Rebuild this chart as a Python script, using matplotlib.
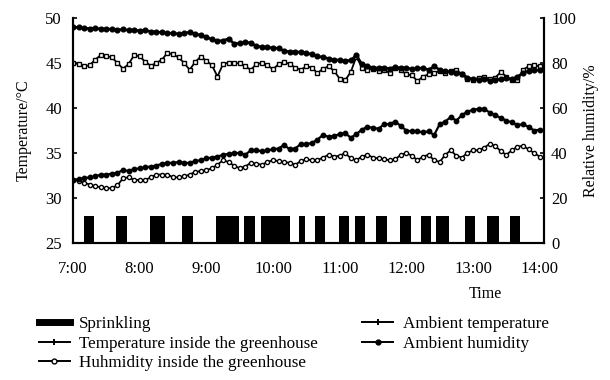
import matplotlib
matplotlib.use("Agg")
import matplotlib.pyplot as plt
from matplotlib.lines import Line2D
import numpy as np

# time in minutes after 7:00
minutes = list(range(0, 425, 5))

temp_ambient = [32.0, 32.1, 32.2, 32.3, 32.4, 32.6, 32.6, 32.7, 32.8, 33.1, 33.0, 33.2, 33.3, 33.4, 33.5, 33.6,
                33.8, 33.9, 33.9, 34.0, 33.9, 33.9, 34.1, 34.2, 34.4, 34.5, 34.6, 34.8, 34.9, 35.0, 35.0, 34.8,
                35.3, 35.3, 35.2, 35.3, 35.4, 35.5, 35.9, 35.4, 35.5, 36.0, 36.0, 36.1, 36.5, 37.0, 36.8, 36.9,
                37.1, 37.2, 36.7, 37.1, 37.6, 37.9, 37.8, 37.7, 38.2, 38.2, 38.5, 38.0, 37.5, 37.4, 37.4, 37.3,
                37.4, 37.0, 38.2, 38.5, 39.0, 38.6, 39.2, 39.6, 39.8, 39.9, 39.9, 39.5, 39.2, 38.9, 38.6, 38.4,
                38.1, 38.2, 37.9, 37.5, 37.6]

temp_inside = [32.0, 31.9, 31.7, 31.5, 31.3, 31.2, 31.1, 31.1, 31.4, 32.2, 32.3, 32.0, 32.0, 32.0, 32.3, 32.6,
               32.6, 32.6, 32.3, 32.3, 32.4, 32.6, 32.9, 33.0, 33.1, 33.3, 33.7, 34.2, 34.0, 33.6, 33.3, 33.5,
               33.9, 33.8, 33.7, 34.0, 34.2, 34.1, 34.0, 33.9, 33.7, 34.1, 34.3, 34.2, 34.2, 34.5, 34.8, 34.6,
               34.7, 35.0, 34.4, 34.2, 34.6, 34.8, 34.5, 34.4, 34.3, 34.2, 34.3, 34.8, 35.0, 34.7, 34.2, 34.6,
               34.8, 34.2, 34.0, 34.8, 35.3, 34.7, 34.5, 35.0, 35.3, 35.3, 35.6, 36.0, 35.8, 35.2, 34.8, 35.3,
               35.7, 35.8, 35.4, 35.0, 34.6]

hum_ambient = [96.0, 95.8, 95.5, 95.3, 95.5, 95.2, 95.2, 95.0, 94.8, 94.9, 94.6, 94.5, 94.4, 94.5, 94.0, 93.8,
               93.6, 93.3, 93.2, 93.0, 93.2, 93.7, 92.8, 92.5, 91.5, 90.5, 89.8, 90.0, 90.8, 88.6, 88.8, 89.2,
               89.0, 87.5, 87.2, 87.0, 86.8, 86.5, 85.5, 85.0, 85.0, 84.8, 84.5, 83.8, 83.0, 82.6, 82.0, 81.5,
               81.3, 81.0, 81.2, 83.5, 79.5, 78.5, 78.0, 77.8, 78.0, 77.5, 78.2, 77.8, 78.0, 77.2, 77.6, 77.8,
               77.0, 78.5, 77.0, 76.5, 76.0, 75.5, 75.2, 73.5, 72.8, 72.5, 73.0, 72.2, 72.5, 72.8, 73.2, 72.8,
               74.0, 75.5, 76.5, 77.0, 76.8]

hum_inside = [80.0, 79.5, 78.5, 79.0, 81.5, 83.5, 83.0, 82.5, 80.0, 77.5, 79.5, 83.5, 83.0, 80.5, 78.8, 80.0,
              81.5, 84.5, 83.8, 82.5, 80.0, 77.0, 80.5, 82.8, 81.0, 79.0, 74.0, 79.5, 80.2, 79.8, 80.0, 78.5,
              77.0, 79.5, 80.0, 79.0, 77.2, 79.5, 80.5, 79.5, 78.0, 77.0, 78.5, 78.0, 75.5, 77.5, 78.5, 76.5,
              73.0, 72.4, 76.0, 82.8, 78.0, 77.0, 77.5, 76.5, 77.0, 75.5, 78.0, 76.8, 75.0, 74.5, 72.0, 74.0,
              75.0, 75.5, 76.5, 75.5, 76.5, 77.0, 75.0, 73.0, 72.5, 73.5, 74.0, 72.8, 73.5, 76.0, 74.0, 72.5,
              72.4, 77.0, 78.5, 79.0, 78.5]

# sprinkling periods (start minute after 7:00, duration in minutes)
spray_start = [10, 39, 69, 98, 129, 154, 169, 203, 218, 239, 254, 273, 294, 313, 327, 353, 373, 393]
spray_dur = [9, 10, 14, 10, 20, 10, 26, 6, 9, 9, 9, 10, 10, 9, 11, 9, 10, 9]
spray_level = 3.0  # bars reach 28 degC on the temperature axis

xtick_minutes = [0, 60, 120, 180, 240, 300, 360, 420]
xtick_labels = ["7:00", "8:00", "9:00", "10:00", "11:00", "12:00", "13:00", "14:00"]

plt.rcParams['font.family'] = ['Liberation Serif', 'DejaVu Serif']

fig = plt.figure(figsize=(6.1, 3.8), dpi=100)
ax = fig.add_axes([0.1197, 0.3605, 0.7723, 0.5921])
ax2 = ax.twinx()

ax.bar(spray_start, [spray_level] * len(spray_start), width=spray_dur, bottom=25,
       align='edge', color='black', linewidth=0)

ax.plot(minutes, temp_inside, color='black', lw=1.3, marker='o', ms=3.0,
        mfc='white', mec='black', mew=1.0)
ax.plot(minutes, temp_ambient, color='black', lw=1.6, marker='o', ms=3.2,
        mfc='black', mec='black')
ax2.plot(minutes, hum_inside, color='black', lw=1.3, marker='s', ms=3.0,
         mfc='white', mec='black', mew=1.0)
ax2.plot(minutes, hum_ambient, color='black', lw=1.8, marker='o', ms=3.4,
         mfc='black', mec='black')

ax.set_xlim(0, 424)
ax.set_ylim(25, 50)
ax2.set_ylim(0, 100)
ax.set_yticks([25, 30, 35, 40, 45, 50])
ax2.set_yticks([0, 20, 40, 60, 80, 100])
ax.set_xticks(xtick_minutes)
ax.set_xticklabels(xtick_labels)

for a in (ax, ax2):
    a.spines['top'].set_visible(False)
    for s in a.spines.values():
        s.set_linewidth(1.5)
ax.tick_params(axis='y', direction='in', length=3, width=1.2, labelsize=12, pad=8)
ax2.tick_params(axis='y', direction='in', length=3, width=1.2, labelsize=12, pad=5)
ax.tick_params(axis='x', direction='in', length=0, labelsize=12, pad=13)

ax.set_ylabel("Temperature/°C", fontsize=11.5, labelpad=10)
ax2.set_ylabel("Relative humidity/%", fontsize=11.5, labelpad=5)
fig.text(0.795, 0.226, "Time", fontsize=11.5, ha='center', va='center')

handles = [
    Line2D([], [], color='black', lw=5),
    Line2D([], [], color='black', lw=1.4, marker='+', ms=5, mew=1.4),
    Line2D([], [], color='black', lw=1.4, marker='o', ms=3.5, mfc='white'),
    Line2D([], [], color='black', lw=1.4, marker='+', ms=5, mew=1.4),
    Line2D([], [], color='black', lw=1.4, marker='o', ms=3.5),
]
labels = ["Sprinkling", "Temperature inside the greenhouse", "Huhmidity inside the greenhouse",
          "Ambient temperature", "Ambient humidity"]
fig.legend(handles, labels, loc='upper left', bbox_to_anchor=(0.05, 0.19), ncol=2,
           frameon=False, fontsize=12.3, handlelength=1.8, handletextpad=0.55,
           columnspacing=2.6, labelspacing=0.2, borderpad=0)

fig.savefig("out.png", dpi=100)
